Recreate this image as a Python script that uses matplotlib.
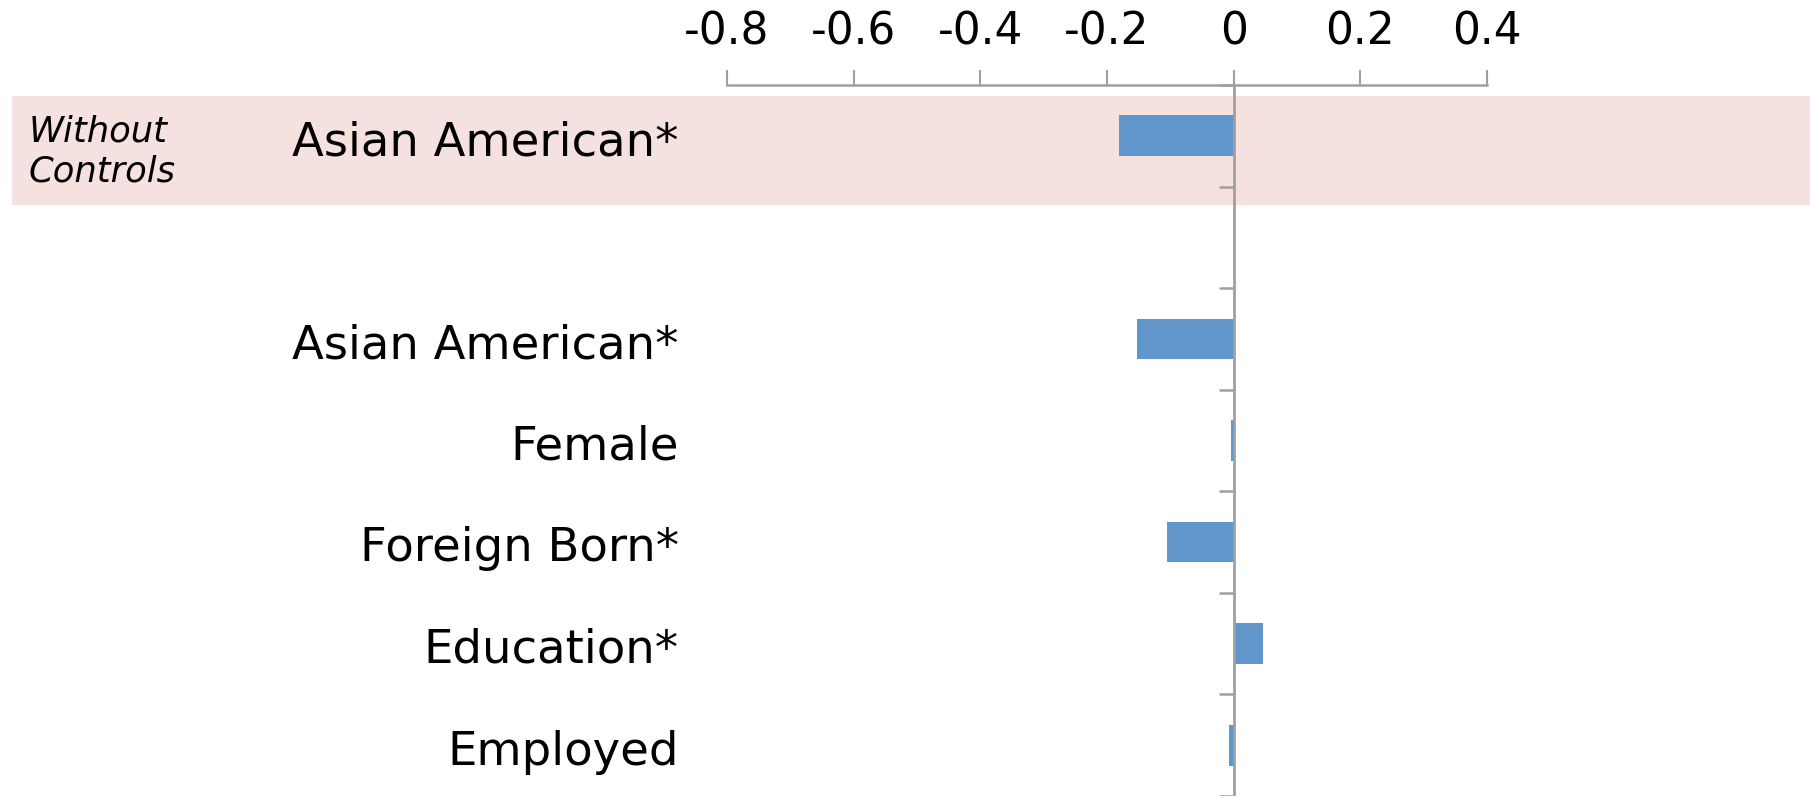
import matplotlib
matplotlib.use('Agg')
import matplotlib.pyplot as plt
from matplotlib.patches import Rectangle
import numpy as np

# ---- data ----
categories = ['Asian American*', '', 'Asian American*', 'Female',
              'Foreign Born*', 'Education*', 'Employed']
values = [-0.181, np.nan, -0.152, -0.005, -0.105, 0.046, -0.008]
group_label = ['Without', 'Controls']
xticks = [-0.8, -0.6, -0.4, -0.2, 0.0, 0.2, 0.4]
xtick_labels = ['-0.8', '-0.6', '-0.4', '-0.2', '0', '0.2', '0.4']

# ---- style ----
W, H = 1810, 796
bar_color = '#6096C9'
band_color = '#F4E1E0'
axis_color = '#A0A0A0'

fig = plt.figure(figsize=(W / 100, H / 100), dpi=100)
ax_top_px = 85
ax = fig.add_axes([0, 0, 1, 1 - ax_top_px / H])
ax.patch.set_visible(False)

# pixel mapping of axis: -0.8 at x=727 px, 0.4 at x=1487 px
x_lo_px, x_hi_px = 727, 1487
ppu = (x_hi_px - x_lo_px) / (xticks[-1] - xticks[0])
ax.set_xlim(xticks[0] - x_lo_px / ppu, xticks[-1] + (W - x_hi_px) / ppu)
n = len(categories)
ax.set_ylim(n - 0.5, -0.5)

# pink band behind first group
band = Rectangle((11.5 / W, 1 - 205 / H), 1 - 11.5 / W, 109 / H,
                 transform=fig.transFigure, facecolor=band_color,
                 edgecolor='none', zorder=0, clip_on=False)
ax.add_patch(band)

ypos = np.arange(n)
ax.barh(ypos, values, height=0.4, color=bar_color, linewidth=0, zorder=3)

# spines
for s in ['right', 'bottom']:
    ax.spines[s].set_visible(False)
ax.spines['top'].set_bounds(xticks[0], xticks[-1])
ax.spines['top'].set_color(axis_color)
ax.spines['top'].set_linewidth(1.8)
ax.spines['left'].set_position(('data', 0))
ax.spines['left'].set_color(axis_color)
ax.spines['left'].set_linewidth(2.0)
ax.spines['left'].set_zorder(4)

# x ticks on top
ax.xaxis.tick_top()
ax.set_xticks(xticks)
ax.set_xticklabels(xtick_labels)
ax.tick_params(axis='x', direction='out', length=10.8, width=1.5,
               color=axis_color, pad=12, labelsize=31.5)

# y ticks at category boundaries
ax.set_yticks(np.arange(-0.5, n, 1.0))
ax.set_yticklabels([])
ax.tick_params(axis='y', direction='out', length=10.8, width=1.8,
               color=axis_color)

# category labels
tr = ax.get_yaxis_transform()
for i, lab in enumerate(categories):
    if lab:
        ax.text(679 / W, i + 0.19, lab, transform=tr, ha='right',
                va='baseline', fontsize=33.5, color='black', zorder=5)

# group label
fig.text(29 / W, 1 - 141 / H, group_label[0], style='italic',
         fontsize=25.5, va='baseline', ha='left')
fig.text(29 / W, 1 - 182 / H, group_label[1], style='italic',
         fontsize=25.5, va='baseline', ha='left')

fig.savefig('out.png', dpi=100)
